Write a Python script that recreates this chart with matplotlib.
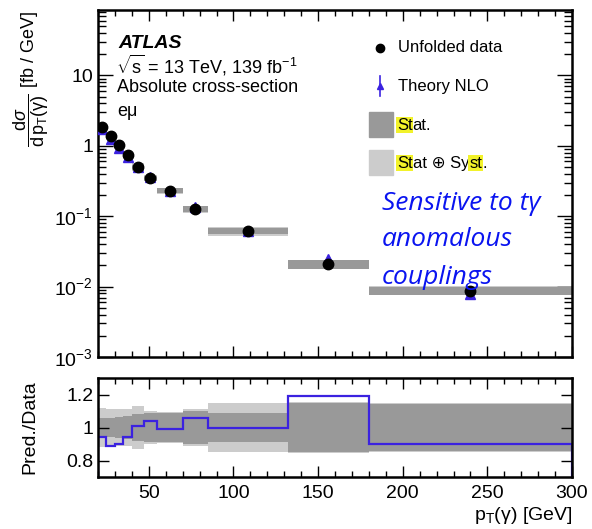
import matplotlib.pyplot as plt
import numpy as np
from matplotlib.patches import Rectangle
from matplotlib.ticker import MultipleLocator, LogLocator, NullFormatter, FixedLocator

plt.rcParams['font.family'] = ['Liberation Sans', 'DejaVu Sans']
plt.rcParams['mathtext.fontset'] = 'custom'
plt.rcParams['mathtext.rm'] = 'Liberation Sans'
plt.rcParams['mathtext.it'] = 'Liberation Sans:italic'

# photon pT binning and unfolded differential cross-section (fb/GeV)
edges = [20, 25, 30, 35, 40, 47, 55, 70, 85, 132, 180, 300]
xsec = [1.85, 1.39, 1.03, 0.75, 0.50, 0.348, 0.23, 0.127, 0.062, 0.021, 0.0088]
# NLO prediction / data
ratio = [0.94, 0.89, 0.90, 0.94, 1.01, 1.04, 0.99, 1.055, 1.00, 1.19, 0.90]
# relative uncertainties of the data
stat_err = [0.06, 0.06, 0.065, 0.07, 0.08, 0.085, 0.085, 0.10, 0.09, 0.15, 0.14]
tot_err = [0.12, 0.11, 0.11, 0.11, 0.13, 0.10, 0.095, 0.115, 0.15, 0.155, 0.15]
theo_err = [0.04, 0.04, 0.04, 0.04, 0.04, 0.04, 0.04, 0.05, 0.05, 0.07, 0.08]

edges = np.array(edges, float)
xsec = np.array(xsec)
ratio = np.array(ratio)
stat_err = np.array(stat_err)
tot_err = np.array(tot_err)
theo = xsec * ratio
centers = 0.5 * (edges[1:] + edges[:-1])
widths = np.diff(edges)

c_stat = '#999999'
c_tot = '#cccccc'
c_theo = '#3b22e0'

W, H = 592, 529
fig = plt.figure(figsize=(W / 100, H / 100), dpi=100)


def frac(x0, y0, x1, y1):
    return [x0 / W, 1 - y1 / H, (x1 - x0) / W, (y1 - y0) / H]


ax = fig.add_axes(frac(98, 10, 572, 357))
rax = fig.add_axes(frac(98, 378, 572, 477), sharex=ax)

# upper panel: uncertainty boxes, theory, data
ax.bar(edges[:-1], 2 * tot_err * xsec, bottom=xsec * (1 - tot_err), width=widths,
       align='edge', color=c_tot, lw=0, zorder=1)
ax.bar(edges[:-1], 2 * stat_err * xsec, bottom=xsec * (1 - stat_err), width=widths,
       align='edge', color=c_stat, lw=0, zorder=2)
ax.errorbar(centers, theo, yerr=theo * np.array(theo_err), fmt='^', color=c_theo,
            ms=6.5, elinewidth=1.2, capsize=0, zorder=3)
ax.plot(centers, xsec, 'o', color='black', ms=7.5, zorder=4)

ax.set_yscale('log')
ax.set_xlim(20, 300)
ax.set_ylim(1e-3, 85)
ax.set_yticks([1e-3, 1e-2, 1e-1, 1, 10])
ax.set_yticklabels([r'$10^{-3}$', r'$10^{-2}$', r'$10^{-1}$', '1', '10'])
ax.yaxis.set_minor_locator(LogLocator(base=10, subs=np.arange(2, 10)))
ax.yaxis.set_minor_formatter(NullFormatter())
ax.tick_params(axis='x', labelbottom=False)
ax.set_ylabel(r'$\dfrac{\mathregular{d}\sigma}{\mathregular{d\,p_{T}(γ)}}$ [fb / GeV]',
              fontsize=13)
ax.yaxis.set_label_coords(-0.1, 0.8)

# lower panel: ratio with data uncertainty bands
rax.stairs(1 + tot_err, edges, baseline=1 - tot_err, fill=True, color=c_tot, lw=0)
rax.stairs(1 + stat_err, edges, baseline=1 - stat_err, fill=True, color=c_stat, lw=0)
rax.stairs(ratio, edges, color=c_theo, lw=1.6)
rax.set_ylim(0.7, 1.3)
rax.yaxis.set_major_locator(FixedLocator([0.8, 1.0, 1.2]))
rax.set_yticklabels(['0.8', '1', '1.2'])
rax.yaxis.set_minor_locator(FixedLocator([]))
rax.set_ylabel('Pred./Data', fontsize=14)
rax.yaxis.set_label_coords(-0.125, 0.5)
rax.set_xlabel(r'p$_{\mathregular{T}}$(γ) [GeV]', fontsize=14, loc='right', labelpad=2)

for a in (ax, rax):
    a.xaxis.set_major_locator(MultipleLocator(50))
    a.xaxis.set_minor_locator(MultipleLocator(10))
    a.tick_params(which='both', direction='in', top=True, right=True, labelsize=14,
                  width=1.0)
    a.tick_params(axis='x', which='major', length=8)
    a.tick_params(axis='x', which='minor', length=4.5)
    for s in a.spines.values():
        s.set_linewidth(1.8)
ax.tick_params(axis='y', which='major', length=11)
ax.tick_params(axis='y', which='minor', length=5.5)
rax.tick_params(axis='y', which='major', length=8)
rax.tick_params(axis='x', pad=6)

# labels in the upper panel
def ptxt(x, y, s, **kw):
    return fig.text(x / W, 1 - y / H, s, va='center', **kw)


ptxt(118, 43, 'ATLAS', fontsize=14, weight='bold', style='italic')
ptxt(116, 65, r'$\sqrt{\mathregular{s}}$ = 13 TeV, 139 fb$^{\mathregular{-1}}$', fontsize=13)
ptxt(117, 88, 'Absolute cross-section', fontsize=13)
ptxt(117, 112, 'eμ', fontsize=13)

# legend
ax_tr = fig.transFigure
fig.lines.append(plt.Line2D([380 / W], [1 - 48 / H], marker='o', color='black', ms=6,
                            transform=ax_tr))
fig.lines.append(plt.Line2D([380 / W, 380 / W], [1 - 76 / H, 1 - 96 / H], color=c_theo,
                            lw=1.2, transform=ax_tr))
fig.lines.append(plt.Line2D([380 / W], [1 - 86 / H], marker='^', color=c_theo, ms=5,
                            transform=ax_tr))
fig.patches.append(Rectangle((369 / W, 1 - 137 / H), 24 / W, 25 / H, color=c_stat,
                             transform=ax_tr))
fig.patches.append(Rectangle((369 / W, 1 - 175 / H), 24 / W, 25 / H, color=c_tot,
                             transform=ax_tr))
ptxt(398, 48, 'Unfolded data', fontsize=12)
ptxt(398, 86, 'Theory NLO', fontsize=12)

renderer = fig.canvas.get_renderer()
hl = dict(boxstyle='square,pad=0.05', fc='#f2f22a', ec='none')


def pieces(x, y, parts):
    for s, mark in parts:
        t = ptxt(x, y, s, fontsize=12, bbox=hl if mark else None)
        bb = t.get_window_extent(renderer)
        x += bb.width


pieces(397, 125, [('St', True), ('at.', False)])
pieces(397, 163, [('St', True), ('at \u2295 Sy', False), ('st', True), ('.', False)])

# annotation
for yy, s in [(203, 'Sensitive to tγ'), (240, 'anomalous'), (277, 'couplings')]:
    ptxt(382, yy, s, fontsize=19, color='#0a14f0', style='italic', family='Open Sans')

fig.savefig('out.png', dpi=100)
